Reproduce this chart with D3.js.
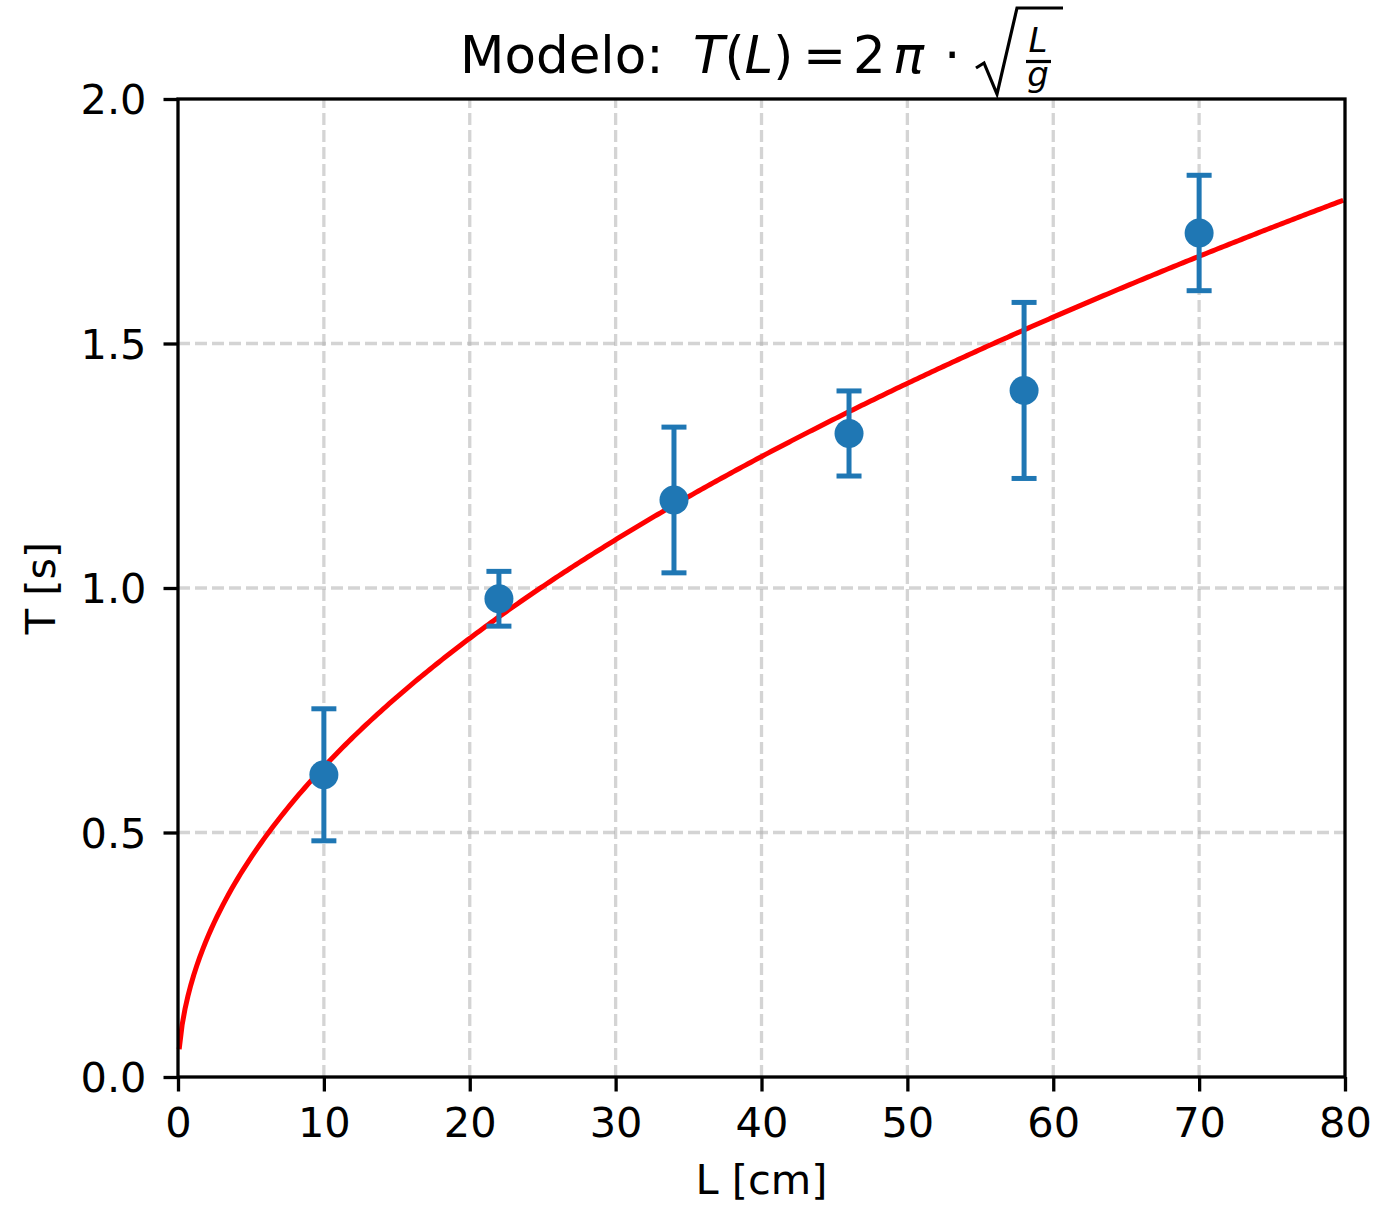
<!DOCTYPE html>
<html>
<head>
<meta charset="utf-8">
<script src="https://cdn.jsdelivr.net/npm/d3@7"></script>
<style>
  body { margin: 0; background: #fff; }
  svg { font-family: "DejaVu Sans", sans-serif; }
</style>
</head>
<body>
<svg id="svg"></svg>
<script>
// measured pendulum periods
const lengths = [10, 22, 34, 46, 58, 70];
const periods = [0.618, 0.978, 1.18, 1.316, 1.404, 1.726];
const errors = [0.135, 0.056, 0.149, 0.087, 0.18, 0.118];

// model T(L) = 2*pi*sqrt(L/g), L in cm
const g = 981;
const modelStart = 0.08;
const xTicks = [0, 10, 20, 30, 40, 50, 60, 70, 80];
const yTicks = [0.0, 0.5, 1.0, 1.5, 2.0];

const width = 1387, height = 1205;
const margin = { top: 99, right: 42, bottom: 128, left: 178 };

const svg = d3.select('#svg')
    .attr('width', width)
    .attr('height', height);

const x = d3.scaleLinear().domain([0, 80]).range([margin.left, width - margin.right]);
const y = d3.scaleLinear().domain([0, 2]).range([height - margin.bottom, margin.top]);

// grid
const grid = svg.append('g')
    .attr('stroke', '#b0b0b0')
    .attr('stroke-opacity', 0.55)
    .attr('stroke-width', 3.3)
    .attr('stroke-dasharray', '12,5');
grid.selectAll('.gx')
    .data(xTicks.slice(1, -1))
    .join('line')
        .attr('x1', d => x(d)).attr('x2', d => x(d))
        .attr('y1', y(0)).attr('y2', y(2));
grid.selectAll('.gy')
    .data(yTicks.slice(1, -1))
    .join('line')
        .attr('class', 'gy')
        .attr('x1', x(0)).attr('x2', x(80))
        .attr('y1', d => y(d)).attr('y2', d => y(d));

// model curve
const curveL = d3.range(modelStart, 80.001, 0.2);
const model = L => 2 * Math.PI * Math.sqrt(L / g);
svg.append('path')
    .datum(curveL)
    .attr('fill', 'none')
    .attr('stroke', '#ff0000')
    .attr('stroke-width', 5)
    .attr('d', d3.line().x(d => x(d)).y(d => y(model(d))));

// error bars
const blue = '#1f77b4';
const idx = d3.range(lengths.length);
const eb = svg.append('g')
    .attr('stroke', blue)
    .attr('stroke-width', 5);
eb.selectAll('.v')
    .data(idx)
    .join('line')
        .attr('x1', i => x(lengths[i])).attr('x2', i => x(lengths[i]))
        .attr('y1', i => y(periods[i] - errors[i]))
        .attr('y2', i => y(periods[i] + errors[i]));
for (const s of [-1, 1]) {
    eb.append('g').selectAll('line')
        .data(idx)
        .join('line')
            .attr('x1', i => x(lengths[i]) - 12.5).attr('x2', i => x(lengths[i]) + 12.5)
            .attr('y1', i => y(periods[i] + s * errors[i]))
            .attr('y2', i => y(periods[i] + s * errors[i]));
}
svg.append('g')
    .selectAll('circle')
    .data(idx)
    .join('circle')
        .attr('cx', i => x(lengths[i]))
        .attr('cy', i => y(periods[i]))
        .attr('r', 14.5)
        .attr('fill', blue);

// axes
const xAxis = svg.append('g')
    .attr('transform', `translate(0,${y(0)})`)
    .call(d3.axisBottom(x).tickValues(xTicks).tickSize(14.5).tickPadding(16));
const yAxis = svg.append('g')
    .attr('transform', `translate(${x(0)},0)`)
    .call(d3.axisLeft(y).tickValues(yTicks).tickFormat(d3.format('.1f')).tickSize(14.5).tickPadding(17));
for (const ax of [xAxis, yAxis]) {
    ax.attr('font-size', 41.5).attr('font-family', '"DejaVu Sans", sans-serif');
    ax.selectAll('line').attr('stroke-width', 3.3);
    ax.select('.domain').remove();
    ax.selectAll('text').attr('fill', '#000');
}
yAxis.selectAll('text').attr('dy', '0.36em');

svg.append('rect')
    .attr('x', x(0)).attr('y', y(2))
    .attr('width', x(80) - x(0)).attr('height', y(0) - y(2))
    .attr('fill', 'none')
    .attr('stroke', '#000')
    .attr('stroke-width', 3.3);

// axis labels
svg.append('text')
    .attr('x', (x(0) + x(80)) / 2)
    .attr('y', 1194)
    .attr('text-anchor', 'middle')
    .attr('font-size', 41.5)
    .text('L [cm]');
svg.append('text')
    .attr('transform', `translate(55,${(y(0) + y(2)) / 2}) rotate(-90)`)
    .attr('text-anchor', 'middle')
    .attr('font-size', 41.5)
    .text('T [s]');

// title
const title = svg.append('g').attr('font-size', 51.5);
const t = title.append('text').attr('y', 73);
t.append('tspan').attr('x', 460).text('Modelo:');
t.append('tspan').attr('x', 693).attr('font-style', 'italic').text('T');
t.append('tspan').text('(');
t.append('tspan').attr('font-style', 'italic').text('L');
t.append('tspan').text(')');
t.append('tspan').attr('x', 803).text('=');
t.append('tspan').attr('x', 853).text('2');
t.append('tspan').attr('x', 893).attr('font-style', 'italic').text('\u03c0');
t.append('tspan').attr('x', 944).text('\u00b7');

title.append('path')
    .attr('fill', 'none')
    .attr('stroke', '#000')
    .attr('stroke-width', 3.2)
    .attr('stroke-linejoin', 'miter')
    .attr('d', 'M976,68 L984,63 L997,94 L1017,8 L1063,8');
title.append('text')
    .attr('x', 1038).attr('y', 52)
    .attr('text-anchor', 'middle')
    .attr('font-size', 34)
    .attr('font-style', 'italic')
    .text('L');
title.append('line')
    .attr('x1', 1026).attr('x2', 1051)
    .attr('y1', 61.5).attr('y2', 61.5)
    .attr('stroke', '#000').attr('stroke-width', 3.2);
title.append('text')
    .attr('x', 1038).attr('y', 86)
    .attr('text-anchor', 'middle')
    .attr('font-size', 34)
    .attr('font-style', 'italic')
    .text('g');
</script>
</body>
</html>
